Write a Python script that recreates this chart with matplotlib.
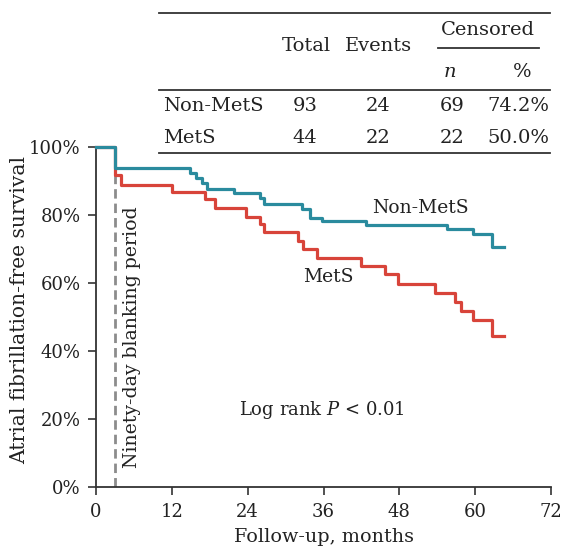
import matplotlib
matplotlib.use("Agg")
import matplotlib.pyplot as plt
from matplotlib.lines import Line2D

plt.rcParams['font.family'] = ['DejaVu Serif']
plt.rcParams['mathtext.fontset'] = 'custom'
plt.rcParams['mathtext.it'] = 'DejaVu Serif:italic'
plt.rcParams['mathtext.rm'] = 'DejaVu Serif'

# Kaplan-Meier step data (months, survival)
nonmets_t = [0, 3.0, 14.9, 15.9, 16.7, 17.5, 21.8, 26.0, 26.6, 32.6, 33.8, 35.8, 42.8, 55.6, 59.7, 62.7, 64.6]
nonmets_s = [1.0, 0.936, 0.922, 0.907, 0.892, 0.875, 0.863, 0.848, 0.831, 0.818, 0.791, 0.781, 0.770, 0.757, 0.743, 0.706, 0.706]
mets_t = [0, 3.0, 3.9, 12.0, 17.2, 18.8, 23.7, 25.9, 26.6, 32.0, 32.8, 35.0, 41.9, 45.7, 47.8, 53.6, 56.8, 57.7, 59.7, 62.7, 64.6]
mets_s = [1.0, 0.917, 0.887, 0.866, 0.845, 0.819, 0.794, 0.773, 0.750, 0.723, 0.698, 0.672, 0.649, 0.626, 0.596, 0.569, 0.542, 0.517, 0.490, 0.443, 0.443]

blanking_month = 3.0
x_ticks = [0, 12, 24, 36, 48, 60, 72]
y_ticks = [0, 0.2, 0.4, 0.6, 0.8, 1.0]
y_ticklabels = ['0%', '20%', '40%', '60%', '80%', '100%']

# Table data
table_groups = ['Non-MetS', 'MetS']
table_total = ['93', '44']
table_events = ['24', '22']
table_cens_n = ['69', '22']
table_cens_pct = ['74.2%', '50.0%']

teal = '#2a8b9e'
red = '#d8443a'
axis_col = '#333333'
tc = '#222222'

W, H = 564, 550
fig = plt.figure(figsize=(W / 100, H / 100), dpi=100)
ax = fig.add_axes([96 / W, 1 - 486.7 / H, (551 - 96) / W, (486.7 - 146.7) / H])

ax.plot([blanking_month, blanking_month], [0, 1.0], color='#8c8c8c', lw=2.0,
        ls=(0, (3.4, 1.8)), zorder=1)
ax.step(mets_t, mets_s, where='post', color=red, lw=2.3, zorder=2, clip_on=False)
ax.step(nonmets_t, nonmets_s, where='post', color=teal, lw=2.3, zorder=3, clip_on=False)

ax.set_xlim(0, 72)
ax.set_ylim(0, 1.0)
ax.set_xticks(x_ticks)
ax.set_xticklabels([str(t) for t in x_ticks])
ax.set_yticks(y_ticks)
ax.set_yticklabels(y_ticklabels)
for s in ['top', 'right']:
    ax.spines[s].set_visible(False)
for s in ['left', 'bottom']:
    ax.spines[s].set_color(axis_col)
    ax.spines[s].set_linewidth(1.3)
ax.tick_params(axis='both', direction='out', length=5.5, width=1.2, colors=axis_col,
               labelsize=13, labelcolor=tc)
ax.tick_params(axis='x', pad=6)
ax.tick_params(axis='y', pad=5.5)

ax.set_xlabel('Follow-up, months', fontsize=13.8, color=tc, labelpad=5)
ax.set_ylabel('Atrial fibrillation-free survival', fontsize=14.6, color=tc, labelpad=0)
ax.yaxis.label.set_y(0.52)

ax.text(5.7, 0.44, 'Ninety-day blanking period', rotation=90, ha='center', va='center',
        fontsize=13.6, color=tc)
ax.text(51.4, 0.82, 'Non-MetS', ha='center', va='center', fontsize=13.5, color=tc)
ax.text(36.7, 0.618, 'MetS', ha='center', va='center', fontsize=13.5, color=tc)
ax.text(35.8, 0.225, r'Log rank $\mathit{P}$ < 0.01', ha='center', va='center',
        fontsize=13, color=tc)

# Table drawn in figure coordinates
def fx(px):
    return px / W

def fy(py):
    return 1 - py / H

def hline(x0, x1, y, lw=1.3):
    fig.add_artist(Line2D([fx(x0), fx(x1)], [fy(y), fy(y)], color=axis_col, lw=lw))

hline(159, 550, 13)
hline(438, 539, 47.5)
hline(159, 550, 89.5)
hline(159, 550, 153)

fs = 14
fig.text(fx(306), fy(46), 'Total', ha='center', va='center', fontsize=fs, color=tc)
fig.text(fx(378), fy(46), 'Events', ha='center', va='center', fontsize=fs, color=tc)
fig.text(fx(488), fy(30), 'Censored', ha='center', va='center', fontsize=fs, color=tc)
fig.text(fx(450), fy(72), 'n', ha='center', va='center', fontsize=fs, color=tc, style='italic')
fig.text(fx(522), fy(72), '%', ha='center', va='center', fontsize=fs, color=tc)

row_y = [106, 138]
for i, yy in enumerate(row_y):
    fig.text(fx(163), fy(yy), table_groups[i], ha='left', va='center', fontsize=fs, color=tc)
    fig.text(fx(305), fy(yy), table_total[i], ha='center', va='center', fontsize=fs, color=tc)
    fig.text(fx(378), fy(yy), table_events[i], ha='center', va='center', fontsize=fs, color=tc)
    fig.text(fx(452), fy(yy), table_cens_n[i], ha='center', va='center', fontsize=fs, color=tc)
    fig.text(fx(549), fy(yy), table_cens_pct[i], ha='right', va='center', fontsize=fs, color=tc)

fig.savefig('out.png', dpi=100)
